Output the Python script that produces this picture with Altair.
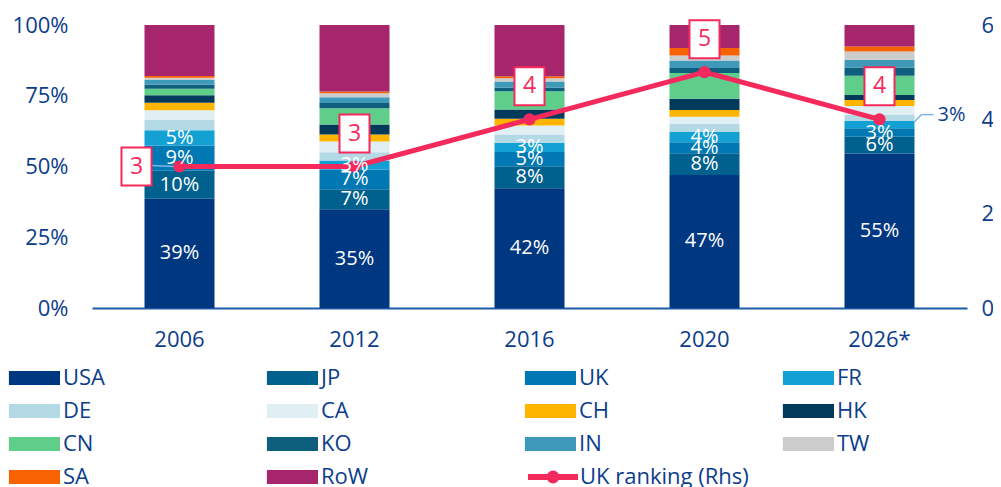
import altair as alt
import pandas as pd

YEARS = ["2006", "2012", "2016", "2020", "2026*"]
COUNTRIES = ["USA", "JP", "UK", "FR", "DE", "CA", "CH", "HK", "CN", "KO", "IN", "TW", "SA", "RoW"]
COLORS = ["#003781", "#00618F", "#0078B3", "#13A0D3", "#B3D9E5", "#DFEFF4", "#FDB500",
          "#023A5B", "#5FCE8A", "#0E5F7E", "#3F9ABA", "#CCCCCC", "#F86200", "#A6256C"]

USA = [38.6, 34.9, 42.3, 47.0, 54.6]
JP = [9.9, 7.1, 7.8, 7.7, 5.9]
UK = [8.9, 6.9, 5.0, 3.9, 3.0]
FR = [5.4, 3.2, 3.3, 3.6, 2.6]
DE = [3.6, 2.9, 2.9, 2.8, 2.1]
CA = [3.5, 3.8, 3.2, 2.6, 3.2]
CH = [2.6, 2.5, 2.4, 2.4, 2.1]
HK = [2.7, 3.5, 3.2, 3.9, 1.8]
CN = [2.3, 5.8, 6.5, 9.1, 6.8]
KO = [1.5, 1.8, 1.3, 1.8, 2.9]
IN = [1.6, 2.1, 2.1, 2.7, 2.7]
TW = [0.8, 1.4, 1.2, 1.7, 2.9]
SA = [0.6, 0.6, 0.7, 2.7, 1.8]
ROW = [18.0, 23.5, 18.1, 8.1, 7.6]

UK_RANK = [3, 3, 4, 5, 4]
RANK_SERIES = "UK ranking (Rhs)"

LABELED = ["USA", "JP", "UK", "FR"]
OUTSIDE = [("2026*", "FR")]

FONT = "Open Sans"
TXT = "#0B3D8C"
AXC = "#1D5AA7"
PINK = "#F42A5D"
LEADER = "#7DB7E8"

SERIES = [USA, JP, UK, FR, DE, CA, CH, HK, CN, KO, IN, TW, SA, ROW]
rows = []
for ci, (c, vals) in enumerate(zip(COUNTRIES, SERIES)):
    for yi, y in enumerate(YEARS):
        pos = "none"
        if c in LABELED:
            pos = "out" if (y, c) in OUTSIDE else "in"
        rows.append({"year": y, "country": c, "value": vals[yi], "idx": ci, "pos": pos})
df = pd.DataFrame(rows)

rank_df = pd.DataFrame({"year": YEARS, "rank": UK_RANK, "series": RANK_SERIES})

W, H = 875, 283
x_enc = alt.X("year:N", sort=YEARS,
              scale=alt.Scale(paddingInner=0.6, paddingOuter=0.3),
              axis=alt.Axis(title=None, labelAngle=0, labelFontSize=22, labelFont=FONT,
                            labelColor=TXT, domainColor=AXC, domainWidth=2, ticks=False,
                            labelPadding=21))

ysc_l = alt.Scale(domain=[0, 100], nice=False)
ysc_r = alt.Scale(domain=[0, 6], nice=False)

base = alt.Chart(df)

bars = base.mark_bar().encode(
    x=x_enc,
    y=alt.Y("value:Q", stack="zero", scale=ysc_l,
            axis=alt.Axis(title=None, values=[0, 25, 50, 75, 100], labelExpr="datum.value + '%'",
                          grid=False, domain=False, ticks=False, labelPadding=24,
                          labelFontSize=22, labelFont=FONT, labelColor=TXT)),
    color=alt.Color("country:N", scale=alt.Scale(domain=COUNTRIES, range=COLORS),
                    legend=alt.Legend(title=None, orient="none", legendX=-85, legendY=342,
                                      direction="horizontal",
                                      columns=4, gridAlign="all", columnPadding=154, rowPadding=11,
                                      symbolType="M-1.3,-1H6.0V1H-1.3Z", symbolSize=196,
                                      symbolStrokeWidth=0, labelOffset=34, labelFontSize=22,
                                      labelFont=FONT, labelColor=TXT, padding=0, labelLimit=400)),
    order=alt.Order("idx:Q", sort="ascending"),
)

stacked = base.transform_stack(
    stack="value", groupby=["year"], sort=[alt.SortField("idx", order="ascending")], as_=["y0", "y1"]
).transform_calculate(
    mid="(datum.y0 + datum.y1) / 2", lab="format(datum.value, '.0f') + '%'"
)

ymid = alt.Y("mid:Q", scale=ysc_l, axis=None)

in_labels = stacked.transform_filter("datum.pos == 'in'").mark_text(
    color="white", fontSize=20, font=FONT, baseline="middle"
).encode(x=x_enc, y=ymid, text="lab:N")

out_labels = stacked.transform_filter("datum.pos == 'out'").mark_text(
    color=TXT, fontSize=20, font=FONT, baseline="middle", align="left", dx=58, dy=-10
).encode(x=x_enc, y=ymid, text="lab:N")

lead1 = stacked.transform_filter("datum.pos == 'out'").mark_rule(
    color=LEADER, strokeWidth=1.5, xOffset=35, x2Offset=42, yOffset=-3, y2Offset=-10
).encode(x=x_enc, x2="year:N", y=ymid, y2="mid:Q")

lead2 = stacked.transform_filter("datum.pos == 'out'").mark_rule(
    color=LEADER, strokeWidth=1.5, xOffset=42, x2Offset=54, yOffset=-10, y2Offset=-10
).encode(x=x_enc, x2="year:N", y=ymid, y2="mid:Q")

rbase = alt.Chart(rank_df)

line = rbase.mark_line(strokeWidth=5).encode(
    x=x_enc,
    y=alt.Y("rank:Q", scale=ysc_r,
            axis=alt.Axis(title=None, orient="right", values=[0, 2, 4, 6], grid=False, domain=False,
                          ticks=False, labelPadding=14, labelFontSize=22, labelFont=FONT,
                          labelColor=TXT)),
    stroke=alt.Stroke("series:N", scale=alt.Scale(domain=[RANK_SERIES], range=[PINK]),
                      legend=alt.Legend(title=None, orient="none", legendX=429, legendY=441,
                                        symbolType="M-0.57,0H6.57M2.5,0A0.5,0.5,0,1,0,3.5,0A0.5,0.5,0,1,0,2.5,0Z",
                                        symbolSize=196, symbolStrokeWidth=6, symbolFillColor=PINK,
                                        symbolStrokeColor=PINK,
                                        labelOffset=37, labelFontSize=22, labelFont=FONT,
                                        labelColor=TXT, padding=0, labelLimit=400)),
)

yr = alt.Y("rank:Q", scale=ysc_r, axis=None)

points = rbase.mark_circle(size=150, color=PINK, opacity=1).encode(x=x_enc, y=yr)

lead0 = rbase.transform_filter("datum.year == '2006'").mark_rule(
    color=LEADER, strokeWidth=1.5, xOffset=-28, x2Offset=-5, yOffset=-1, y2Offset=0
).encode(x=x_enc, x2="year:N", y=yr, y2="rank:Q")

BOX = "M-0.79,-1H0.79V1H-0.79Z"
box_first = rbase.transform_filter("datum.year == '2006'").mark_point(
    shape=BOX, size=1444, filled=True, fill="white", stroke=PINK, strokeWidth=2, opacity=1, xOffset=-43
).encode(x=x_enc, y=yr)
box_rest = rbase.transform_filter("datum.year != '2006'").mark_point(
    shape=BOX, size=1444, filled=True, fill="white", stroke=PINK, strokeWidth=2, opacity=1, yOffset=-33
).encode(x=x_enc, y=yr)
txt_first = rbase.transform_filter("datum.year == '2006'").mark_text(
    color=PINK, fontSize=23, font=FONT, baseline="middle", dx=-43
).encode(x=x_enc, y=yr, text="rank:Q")
txt_rest = rbase.transform_filter("datum.year != '2006'").mark_text(
    color=PINK, fontSize=23, font=FONT, baseline="middle", dy=-33
).encode(x=x_enc, y=yr, text="rank:Q")

chart = alt.layer(
    bars, lead0, line, points, in_labels, out_labels, lead1, lead2,
    box_first, box_rest, txt_first, txt_rest
).resolve_scale(y="independent", color="independent").properties(
    width=W, height=H, autosize=alt.AutoSizeParams(type="none"),
    padding={"left": 84, "right": 26, "top": 17, "bottom": 179},
).configure_view(stroke=None)

chart.save("out.html", embed_options={"renderer": "svg", "actions": False})
